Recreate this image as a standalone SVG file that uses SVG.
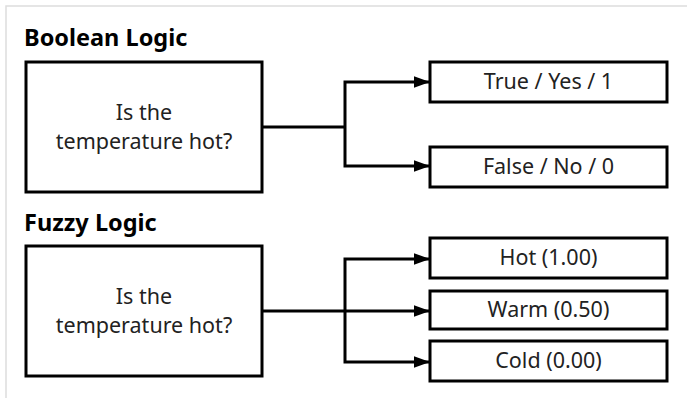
<svg xmlns="http://www.w3.org/2000/svg" width="687" height="398" viewBox="0 0 687 398">
<defs>
<style>
.box{fill:#fff;stroke:#000;stroke-width:3}
.t{font-family:"Noto Sans","Open Sans",sans-serif;font-size:21.5px;fill:#222;text-anchor:middle}
.h{font-family:"Noto Sans","Open Sans",sans-serif;font-size:23.5px;font-weight:bold;fill:#000}
.c{fill:none;stroke:#000;stroke-width:3}
</style>
<marker id="arr" viewBox="0 0 10 10" refX="10" refY="5" markerWidth="5.5" markerHeight="4" markerUnits="strokeWidth" orient="auto" preserveAspectRatio="none">
<path d="M0,0L10,5L0,10z" fill="#000"/>
</marker>
</defs>
<rect width="687" height="398" fill="#fff"/>
<path d="M6,398V6H687" fill="none" stroke="#ddd" stroke-width="1.5"/>
<text class="h" x="24" y="46">Boolean Logic</text>
<text class="h" x="24" y="231">Fuzzy Logic</text>
<g id="connectors">
<path class="c" d="M262,127H345"/>
<path class="c" d="M345,127V82H430" marker-end="url(#arr)"/>
<path class="c" d="M345,127V166H430" marker-end="url(#arr)"/>
<path class="c" d="M262,311H430" marker-end="url(#arr)"/>
<path class="c" d="M345,311V259H430" marker-end="url(#arr)"/>
<path class="c" d="M345,311V362H430" marker-end="url(#arr)"/>
</g>
<g id="bool-q">
<rect class="box" x="26" y="62" width="236" height="130"/>
<text class="t" x="144" y="120">Is the</text>
<text class="t" x="144" y="149">temperature hot?</text>
</g>
<g id="bool-true">
<rect class="box" x="430" y="62" width="237" height="40"/>
<text class="t" x="548.5" y="89">True / Yes / 1</text>
</g>
<g id="bool-false">
<rect class="box" x="430" y="147" width="237" height="40"/>
<text class="t" x="548.5" y="174">False / No / 0</text>
</g>
<g id="fuzzy-q">
<rect class="box" x="26" y="246" width="236" height="130"/>
<text class="t" x="144" y="304">Is the</text>
<text class="t" x="144" y="333">temperature hot?</text>
</g>
<g id="fuzzy-hot">
<rect class="box" x="430" y="238" width="237" height="40"/>
<text class="t" x="548.5" y="265">Hot (1.00)</text>
</g>
<g id="fuzzy-warm">
<rect class="box" x="430" y="291" width="237" height="38"/>
<text class="t" x="548.5" y="317">Warm (0.50)</text>
</g>
<g id="fuzzy-cold">
<rect class="box" x="430" y="341" width="237" height="40"/>
<text class="t" x="548.5" y="368">Cold (0.00)</text>
</g>
</svg>
